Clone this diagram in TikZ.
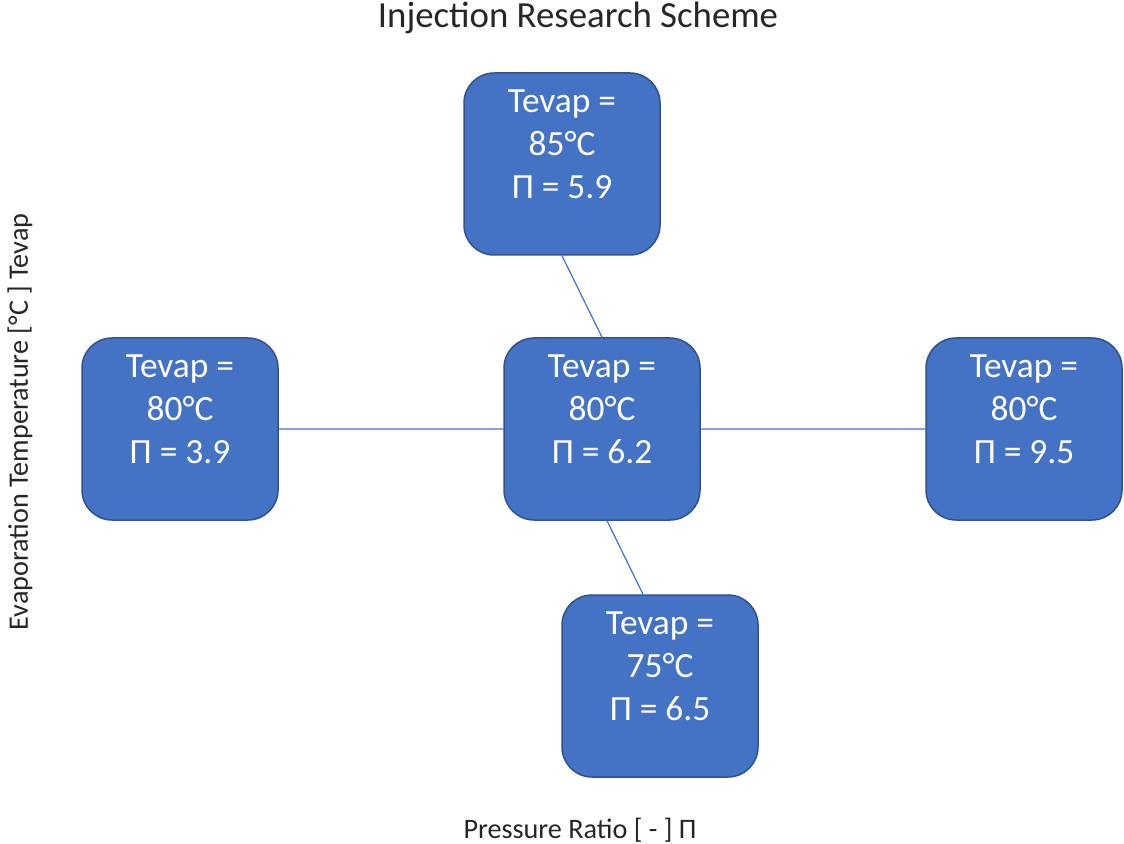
\documentclass[tikz,border=0pt]{standalone}
\usepackage{fontspec}
\setmainfont{Carlito}
\usepackage{tikz}
\usetikzlibrary{positioning}
\definecolor{boxblue}{HTML}{4472C4}
\definecolor{boxedge}{HTML}{2F528F}
\newcommand{\tevap}[2]{Tevap =\\#1°C\\Π = #2\\[-8pt]\strut}

\begin{document}
\begin{tikzpicture}[x=0.5pt,y=-0.5pt,node distance=211pt,
    point/.style={draw=boxedge,fill=boxblue,line width=0.75pt,rounded corners=15pt,
      minimum width=98pt,minimum height=91pt,align=center,text=white,
      font=\fontsize{17.7}{21.5}\selectfont},
    link/.style={draw=boxblue,line width=0.6pt},
    axislabel/.style={font=\fontsize{14.1}{17}\selectfont,text=black!85}]

    \useasboundingbox (0,0) rectangle (1124,844);

    \node[font=\fontsize{18.4}{22}\selectfont,text=black!85] (title) at (578,18) {Injection Research Scheme};

    \node[point] (mid) at (602,429) {\tevap{80}{6.2}};
    \node[point] (left) [left of=mid] {\tevap{80}{3.9}};
    \node[point] (right) [right of=mid] {\tevap{80}{9.5}};
    \node[point] (top) at (562,164) {\tevap{85}{5.9}};
    \node[point] (bot) at (660,686) {\tevap{75}{6.5}};

    \path[link] (top.south) -- (mid.north)
    ([xshift=2.5pt]mid.south) -- ([xshift=-8.5pt]bot.north)
    (left.east) -- (mid.west)
    (mid.east) -- (right.west);

    \node[axislabel,rotate=90] (ylab) at (20,422) {Evaporation Temperature [°C ] Tevap};
    \node[axislabel] (xlab) at (580,830) {Pressure Ratio [ - ] Π};

\end{tikzpicture}
\end{document}
